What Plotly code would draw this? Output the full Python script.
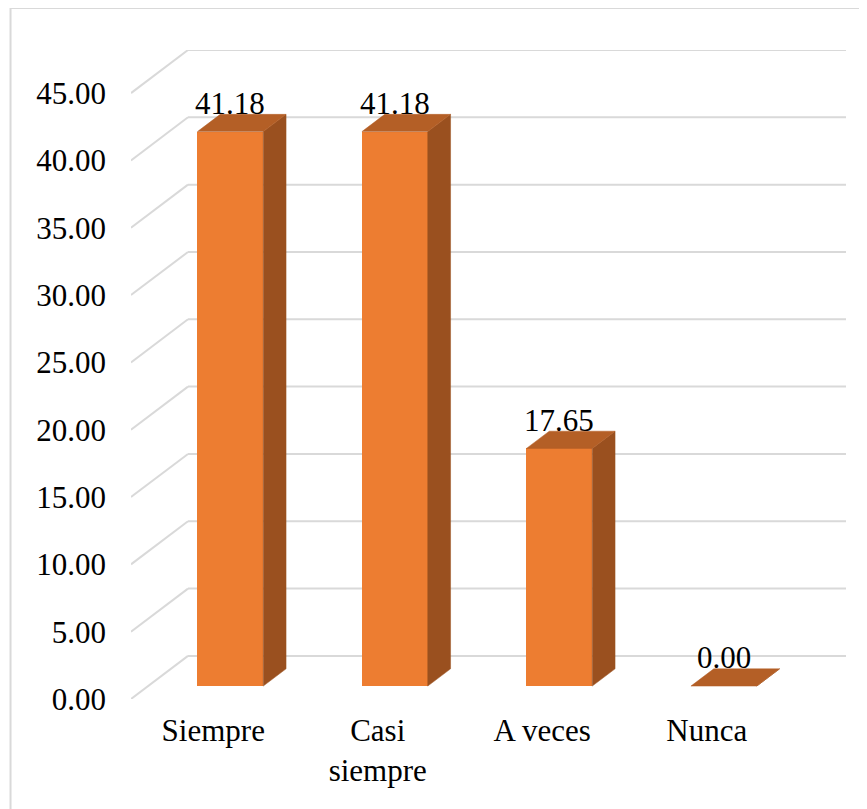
"""3D-style column chart of survey frequencies (percent)."""

import plotly.graph_objects as go

categories = ["Siempre", "Casi siempre", "A veces", "Nunca"]
category_ticktext = ["Siempre", "Casi<br>siempre", "A veces", "Nunca"]
values = [41.18, 41.18, 17.65, 0.00]
tick_values = [0, 5, 10, 15, 20, 25, 30, 35, 40, 45]
tick_labels = ["0.00", "5.00", "10.00", "15.00", "20.00",
               "25.00", "30.00", "35.00", "40.00", "45.00"]

# 3D look: floor depth expressed in axis units
DEPTH_X = 0.3465
DEPTH_Y = 3.2
BAR_FRONT = 0.3   # fraction of depth where bar front face sits
BAR_BACK = 0.7
BAR_WIDTH = 0.4

FRONT = "#ED7D31"
SIDE = "#9A501F"
TOP = "#B45F26"
GRID = "#D9D9D9"
FONT = "'Times New Roman', 'Liberation Serif', 'DejaVu Serif', serif"

n = len(categories)
y_max = tick_values[-1]

fig = go.Figure()

# Back wall gridlines + diagonal lines (shapes so they sit below the bars)
for v in tick_values:
    fig.add_shape(type="line", xref="x", yref="y", layer="below",
                  x0=0, y0=v, x1=DEPTH_X, y1=v + DEPTH_Y,
                  line=dict(color=GRID, width=2))
    fig.add_shape(type="line", xref="x", yref="y", layer="below",
                  x0=DEPTH_X, y0=v + DEPTH_Y, x1=n + DEPTH_X, y1=v + DEPTH_Y,
                  line=dict(color=GRID, width=2))

dx0, dy0 = BAR_FRONT * DEPTH_X, BAR_FRONT * DEPTH_Y
dx1, dy1 = BAR_BACK * DEPTH_X, BAR_BACK * DEPTH_Y

for i, v in enumerate(values):
    left = i + 0.5 - BAR_WIDTH / 2
    right = i + 0.5 + BAR_WIDTH / 2
    # side face
    fig.add_trace(go.Scatter(
        x=[right + dx0, right + dx1, right + dx1, right + dx0, right + dx0],
        y=[dy0, dy1, v + dy1, v + dy0, dy0],
        mode="lines", fill="toself", fillcolor=SIDE,
        line=dict(color=SIDE, width=0.5),
        hoverinfo="skip", showlegend=False,
    ))
    # top face
    fig.add_trace(go.Scatter(
        x=[left + dx0, right + dx0, right + dx1, left + dx1, left + dx0],
        y=[v + dy0, v + dy0, v + dy1, v + dy1, v + dy0],
        mode="lines", fill="toself", fillcolor=TOP,
        line=dict(color=TOP, width=0.5),
        hoverinfo="skip", showlegend=False,
    ))

# Front faces
fig.add_trace(go.Bar(
    x=[i + 0.5 + dx0 for i in range(n)],
    y=values,
    base=dy0,
    width=BAR_WIDTH,
    marker=dict(color=FRONT, line=dict(width=0)),
    hovertext=categories,
    hovertemplate="%{hovertext}: %{y:.2f}<extra></extra>",
    showlegend=False,
))

for i, v in enumerate(values):
    fig.add_annotation(
        x=i + 0.5 + dx0, y=v + dy1,
        text=f"{v:.2f}", showarrow=False,
        yanchor="middle", yshift=11,
        font=dict(family=FONT, size=31, color="black"),
    )

# Chart border (top and left visible)
fig.add_shape(
    type="rect", xref="paper", yref="paper",
    x0=-0.1685, x1=1.2, y0=-0.4, y1=1.0647,
    line=dict(color=GRID, width=2), layer="below",
)

fig.update_layout(
    width=867, height=809,
    margin=dict(l=123, r=29, t=42, b=118),
    plot_bgcolor="white", paper_bgcolor="white",
    font=dict(family=FONT, size=31, color="black"),
    bargap=0,
    xaxis=dict(
        range=[0, n + DEPTH_X],
        tickvals=[i + 0.5 for i in range(n)],
        ticktext=category_ticktext,
        showgrid=False, zeroline=False, showline=False,
        ticks="", ticklabelstandoff=10,
        fixedrange=True,
    ),
    yaxis=dict(
        range=[0, y_max + DEPTH_Y],
        tickvals=tick_values,
        ticktext=tick_labels,
        showgrid=False, zeroline=False, showline=False,
        ticks="", ticklabelstandoff=24,
        fixedrange=True,
    ),
)

fig.write_html("out.html")
